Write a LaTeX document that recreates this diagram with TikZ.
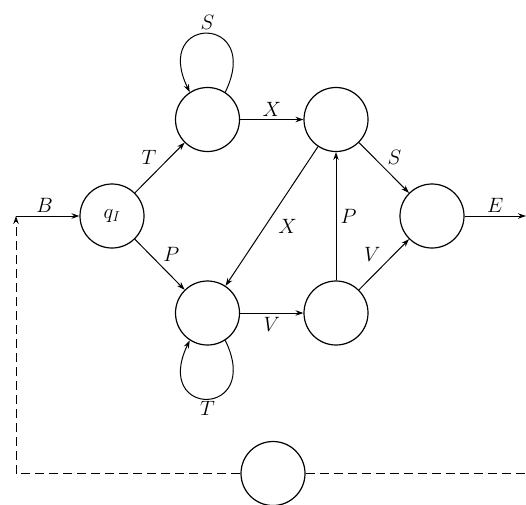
\documentclass[tikz,border=0pt]{standalone}
\usetikzlibrary{arrows.meta}
\begin{document}
\begin{tikzpicture}[x=1pt,y=-1pt,
  state/.style={circle,draw,line width=1.2pt,minimum size=64pt,inner sep=0pt,font=\fontsize{22}{26}\selectfont},
  edge/.style={line width=1pt,-{Stealth[length=8pt,width=5.5pt]}},
  lbl/.style={font=\fontsize{22}{26}\selectfont,inner sep=3pt},
  dash line/.style={line width=1pt,dash pattern=on 9pt off 5pt}]
\useasboundingbox (0,0) rectangle (526,504);
\node[state] (q) at (112,216) {$q_I$};
\node[state] (A) at (207.5,119.5) {};
\node[state] (B) at (336,119.5) {};
\node[state] (C) at (207.5,313) {};
\node[state] (D) at (336,313) {};
\node[state] (E) at (432,216) {};
\node[state] (F) at (273,473.5) {};
\coordinate (in) at (16,216);
\coordinate (eout) at (526,216);
\coordinate (fout) at (526,473.5);
% edges
\draw[edge] (in) -- node[lbl,above,pos=0.45] {$B$} (q);
\draw[edge] (q) -- node[lbl,above left,pos=0.5] {$T$} (A);
\draw[edge] (q) -- node[lbl,above right,pos=0.5] {$P$} (C);
\draw[edge] (A) -- node[lbl,above] {$X$} (B);
\draw[edge] (B) -- node[lbl,below right,pos=0.5,xshift=3pt] {$X$} (C);
\draw[edge] (C) -- node[lbl,below,yshift=-1pt] {$V$} (D);
\draw[edge] (D) -- node[lbl,right,xshift=1pt] {$P$} (B);
\draw[edge] (B) -- node[lbl,above right,pos=0.5] {$S$} (E);
\draw[edge] (D) -- node[lbl,above left,pos=0.5] {$V$} (E);
\draw[edge] (E) -- node[lbl,above] {$E$} (eout);
% loops
\draw[edge] (A.57) .. controls +(38,-78) and +(-38,-78) .. node[lbl,above,yshift=1pt] {$S$} (A.123);
\draw[edge] (C.-57) .. controls +(38,78) and +(-38,78) .. node[lbl,below,yshift=1pt] {$T$} (C.-123);
% feedback
\draw[dash line,-{Stealth[length=8pt,width=5.5pt]}] (F.west) -| (in);
\draw[dash line] (F.east) -- (fout);
\end{tikzpicture}
\end{document}
